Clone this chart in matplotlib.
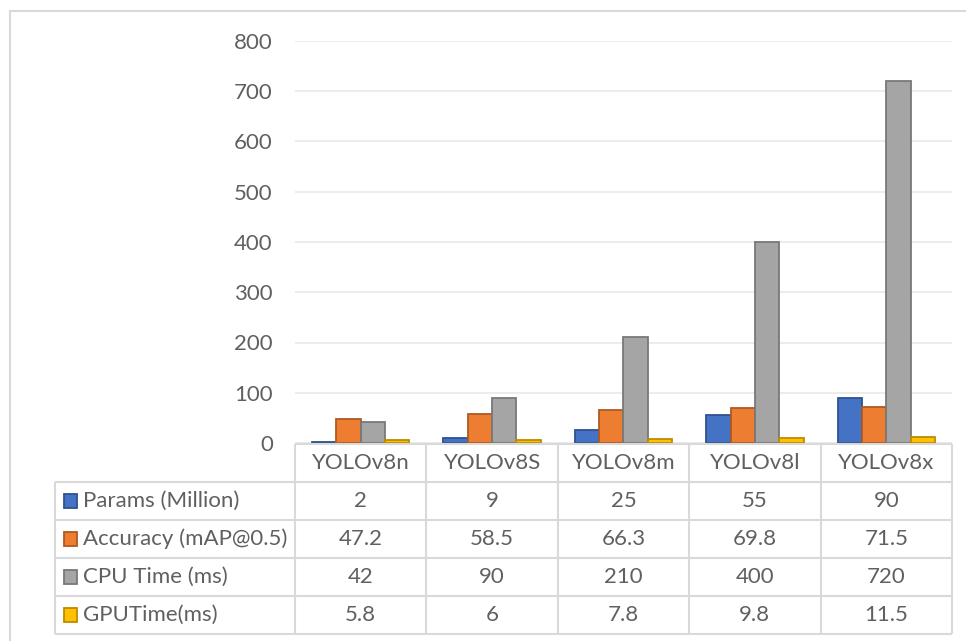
import matplotlib.pyplot as plt
from matplotlib.patches import Rectangle

plt.rcParams['font.family'] = ['Lato', 'DejaVu Sans']

models = ['YOLOv8n', 'YOLOv8S', 'YOLOv8m', 'YOLOv8l', 'YOLOv8x']
series_names = ['Params (Million)', 'Accuracy (mAP@0.5)', 'CPU Time (ms)', 'GPUTime(ms)']
params = [2, 9, 25, 55, 90]
accuracy = [47.2, 58.5, 66.3, 69.8, 71.5]
cpu_time = [42, 90, 210, 400, 720]
gpu_time = [5.8, 6, 7.8, 9.8, 11.5]
cell_text = [['2', '9', '25', '55', '90'],
             ['47.2', '58.5', '66.3', '69.8', '71.5'],
             ['42', '90', '210', '400', '720'],
             ['5.8', '6', '7.8', '9.8', '11.5']]

fills = ['#4472C4', '#ED7D31', '#A5A5A5', '#FFC000']
edges = ['#2F528F', '#AE5A21', '#787878', '#BC8C00']
txt_col = '#606060'
line_col = '#D9D9D9'
fs = 16

W, H = 966, 641
fig = plt.figure(figsize=(W / 100, H / 100), dpi=100)

def box(l, t, r, b):
    return [l / W, 1 - b / H, (r - l) / W, (b - t) / H]

# chart border (top + left)
fig.add_artist(plt.Line2D([10 / W, 1], [1 - 11 / H, 1 - 11 / H], color=line_col, lw=1.5))
fig.add_artist(plt.Line2D([10 / W, 10 / W], [0, 1 - 11 / H], color=line_col, lw=1.5))

# bar chart
ax = fig.add_axes(box(295, 41, 952, 443))
data = [params, accuracy, cpu_time, gpu_time]
bw = 0.185
x = range(len(models))
for i, vals in enumerate(data):
    ax.bar([k + (i - 1.5) * bw for k in x], vals, width=bw, color=fills[i],
           edgecolor=edges[i], linewidth=1.3, zorder=3)
ax.set_xlim(-0.5, 4.5)
ax.set_ylim(0, 800)
ax.set_yticks(range(0, 801, 100))
ax.yaxis.grid(True, color='#EBEBEB', lw=1.3, zorder=0)
ax.tick_params(axis='y', length=0, pad=16, labelsize=fs, labelcolor=txt_col)
ax.set_xticks([])
for s in ax.spines.values():
    s.set_visible(False)

# data table
left_w = (295 - 55) / ((952 - 295) / 5)
tx = fig.add_axes(box(55, 444, 952, 634))
tx.set_xlim(-0.5 - left_w, 4.5)
tx.set_ylim(5, 0)
tx.axis('off')
lk = dict(color=line_col, lw=1.5, clip_on=False)
tx.hlines(0, -0.5, 4.5, **lk)
tx.hlines([1, 2, 3, 4, 5], -0.5 - left_w, 4.5, **lk)
tx.vlines([k - 0.5 for k in range(6)], 0, 5, **lk)
tx.vlines(-0.5 - left_w, 1, 5, **lk)
for k, m in enumerate(models):
    tx.text(k, 0.5, m, ha='center', va='center', fontsize=fs, color=txt_col)
for r in range(4):
    for k in range(5):
        tx.text(k, r + 1.5, cell_text[r][k], ha='center', va='center',
                fontsize=fs, color=txt_col)
    ks = 0.105
    tx.add_patch(Rectangle((-0.5 - left_w + 0.065, r + 1.5 - 0.18), ks, 0.36,
                           facecolor=fills[r], edgecolor=edges[r], lw=1.3, clip_on=False))
    tx.text(-0.5 - left_w + 0.21, r + 1.5, series_names[r], ha='left', va='center',
            fontsize=fs, color=txt_col)

fig.savefig('out.png', dpi=100)
